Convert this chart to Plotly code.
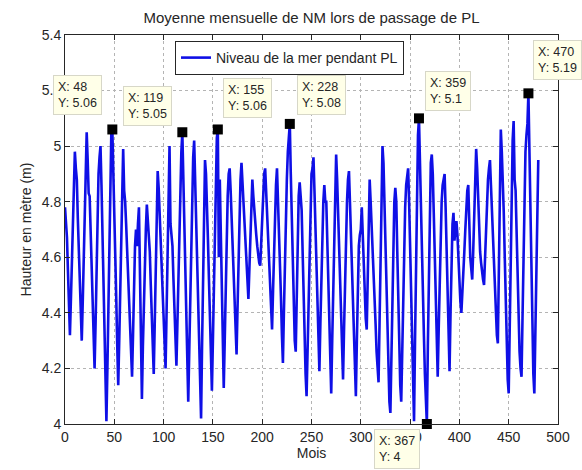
import plotly.graph_objects as go

# ---- data ----
mois = list(range(0, 481))
niveau = [
    4.78, 4.72, 4.67, 4.55, 4.42, 4.32, 4.45, 4.60, 4.74, 4.88, 4.98, 4.92,
    4.88, 4.74, 4.62, 4.50, 4.38, 4.30, 4.44, 4.60, 4.78, 4.93, 5.05, 4.95,
    4.83, 4.82, 4.70, 4.55, 4.42, 4.28, 4.20, 4.36, 4.55, 4.74, 4.90, 4.96,
    5.00, 4.86, 4.70, 4.52, 4.34, 4.16, 4.01, 4.20, 4.42, 4.65, 4.88, 5.05,
    5.06, 4.93, 4.80, 4.62, 4.45, 4.28, 4.14, 4.30, 4.50, 4.70, 4.88, 4.99,
    4.84, 4.80, 4.72, 4.62, 4.52, 4.42, 4.32, 4.22, 4.17, 4.32, 4.50, 4.64,
    4.70, 4.64, 4.72, 4.78, 4.55, 4.30, 4.09, 4.28, 4.46, 4.60, 4.70, 4.79,
    4.72, 4.70, 4.62, 4.50, 4.38, 4.26, 4.18, 4.36, 4.56, 4.76, 4.91, 4.85,
    4.76, 4.66, 4.56, 4.45, 4.35, 4.26, 4.20, 4.40, 4.62, 4.84, 5.00, 4.72,
    4.68, 4.64, 4.52, 4.40, 4.30, 4.21, 4.36, 4.52, 4.70, 4.86, 4.98, 5.05,
    4.90, 4.74, 4.56, 4.38, 4.20, 4.08, 4.26, 4.46, 4.66, 4.84, 4.96, 5.02,
    4.88, 4.74, 4.58, 4.42, 4.26, 4.12, 4.02, 4.28, 4.56, 4.82, 4.95, 4.90,
    4.80, 4.66, 4.52, 4.38, 4.24, 4.12, 4.30, 4.52, 4.74, 4.94, 5.03, 5.06,
    4.60, 4.88, 4.70, 4.48, 4.28, 4.13, 4.30, 4.50, 4.68, 4.82, 4.90, 4.92,
    4.84, 4.74, 4.62, 4.50, 4.38, 4.30, 4.25, 4.42, 4.60, 4.76, 4.88, 4.94,
    4.86, 4.80, 4.74, 4.68, 4.60, 4.52, 4.45, 4.56, 4.70, 4.82, 4.88, 4.82,
    4.76, 4.72, 4.68, 4.64, 4.60, 4.58, 4.57, 4.66, 4.76, 4.85, 4.90, 4.92,
    4.84, 4.74, 4.66, 4.58, 4.50, 4.42, 4.34, 4.48, 4.62, 4.76, 4.86, 4.92,
    4.82, 4.72, 4.60, 4.46, 4.32, 4.22, 4.40, 4.58, 4.74, 4.88, 4.98, 5.04,
    5.08, 4.90, 4.74, 4.58, 4.42, 4.30, 4.26, 4.46, 4.66, 4.82, 4.87, 4.80,
    4.77, 4.62, 4.46, 4.30, 4.18, 4.10, 4.28, 4.46, 4.64, 4.80, 4.90, 4.92,
    4.96, 4.84, 4.72, 4.58, 4.42, 4.28, 4.19, 4.36, 4.54, 4.70, 4.80, 4.86,
    4.80, 4.80, 4.66, 4.50, 4.34, 4.20, 4.11, 4.30, 4.50, 4.70, 4.88, 4.97,
    4.88, 4.76, 4.64, 4.50, 4.36, 4.24, 4.16, 4.34, 4.52, 4.68, 4.80, 4.88,
    4.91, 4.80, 4.68, 4.54, 4.40, 4.26, 4.16, 4.10, 4.30, 4.50, 4.64, 4.68,
    4.70, 4.78, 4.66, 4.56, 4.46, 4.38, 4.34, 4.56, 4.76, 4.88, 4.80, 4.72,
    4.64, 4.56, 4.46, 4.36, 4.26, 4.18, 4.15, 4.36, 4.60, 4.84, 5.00, 4.94,
    4.78, 4.62, 4.46, 4.32, 4.18, 4.08, 4.04, 4.26, 4.48, 4.70, 4.80, 4.85,
    4.80, 4.62, 4.44, 4.28, 4.14, 4.08, 4.26, 4.46, 4.64, 4.78, 4.86, 4.90,
    4.92, 4.80, 4.62, 4.44, 4.26, 4.10, 4.01, 4.30, 4.60, 4.88, 5.04, 5.10,
    4.92, 4.80, 4.62, 4.46, 4.32, 4.18, 4.06, 4.00, 4.28, 4.56, 4.80, 4.94,
    4.97, 4.90, 4.76, 4.60, 4.44, 4.28, 4.17, 4.34, 4.52, 4.68, 4.80, 4.86,
    4.88, 4.90, 4.78, 4.60, 4.42, 4.26, 4.19, 4.40, 4.62, 4.72, 4.76, 4.66,
    4.70, 4.73, 4.68, 4.58, 4.50, 4.44, 4.40, 4.46, 4.54, 4.62, 4.70, 4.78,
    4.84, 4.86, 4.72, 4.60, 4.56, 4.52, 4.62, 4.78, 4.92, 4.99, 4.92, 4.82,
    4.70, 4.62, 4.58, 4.54, 4.52, 4.50, 4.60, 4.72, 4.82, 4.88, 4.92, 4.95,
    4.86, 4.76, 4.66, 4.56, 4.46, 4.38, 4.32, 4.29, 4.60, 4.90, 5.06, 4.98,
    4.90, 4.76, 4.60, 4.44, 4.28, 4.16, 4.11, 4.34, 4.60, 4.84, 5.02, 5.09,
    4.88, 4.84, 4.68, 4.52, 4.38, 4.26, 4.20, 4.17, 4.38, 4.60, 4.80, 4.98,
    5.04, 5.08, 5.19, 4.98, 4.76, 4.54, 4.34, 4.18, 4.11, 4.34, 4.58, 4.80,
    4.95,
]

# data tips shown on the figure (month indices)
tip_mois = [48, 119, 155, 228, 359, 470, 367]
# offsets of each tip box from its point (pixels): (xshift, yshift, xanchor, yanchor)
tip_style = [
    (-59, 14, "left", "bottom"),
    (-59, 6, "left", "bottom"),
    (5, 11, "left", "bottom"),
    (7, 9, "left", "bottom"),
    (6, 7, "left", "bottom"),
    (5, 13, "left", "bottom"),
    (-53, -5, "left", "top"),
]

x_ticks = [0, 50, 100, 150, 200, 250, 300, 350, 400, 450, 500]
y_ticks = [4.0, 4.2, 4.4, 4.6, 4.8, 5.0, 5.2, 5.4]
y_labels = ["4", "4.2", "4.4", "4.6", "4.8", "5", "5.2", "5.4"]

FONT = "Liberation Sans, Arial, sans-serif"
TXT = "#262626"

fig = go.Figure()
fig.add_trace(go.Scatter(
    x=mois, y=niveau, mode="lines",
    line=dict(color="rgb(15,15,230)", width=2.6),
    name="Niveau de la mer pendant PL",
))

tip_y = [niveau[mois.index(m)] for m in tip_mois]
fig.add_trace(go.Scatter(
    x=tip_mois, y=tip_y, mode="markers",
    marker=dict(symbol="square", size=10, color="black"),
    showlegend=False, cliponaxis=False,
))

for m, v, (dx, dy, xa, ya) in zip(tip_mois, tip_y, tip_style):
    fig.add_annotation(
        x=m, y=v, xref="x", yref="y",
        text=f"X: {m}<br>Y: {round(v, 2):g}",
        showarrow=False, xanchor=xa, yanchor=ya,
        xshift=dx, yshift=dy, align="left",
        font=dict(family=FONT, size=12.5, color=TXT),
        bgcolor="rgb(255,255,232)", bordercolor="rgb(215,215,200)",
        borderwidth=1, borderpad=4,
    )

axis_common = dict(
    showline=True, linecolor="#262626", linewidth=1, mirror="ticks",
    ticks="inside", ticklen=5, tickcolor="#262626",
    showgrid=True, gridcolor="#b4b4b4", griddash="dot", gridwidth=1,
    zeroline=False, tickfont=dict(family=FONT, size=14, color=TXT),
)

fig.update_layout(
    width=582, height=470,
    margin=dict(l=65, r=24, t=35, b=46),
    paper_bgcolor="white", plot_bgcolor="white",
    title=dict(text="Moyenne mensuelle de NM lors de passage de PL",
               x=(65 + 558) / 2 / 582, xanchor="center", y=1 - 18 / 470, yanchor="middle",
               font=dict(family=FONT, size=15, color=TXT)),
    xaxis=dict(range=[0, 500], tickvals=x_ticks,
               title=dict(text="Mois", font=dict(family=FONT, size=14, color=TXT), standoff=4),
               **axis_common),
    yaxis=dict(range=[4, 5.4], tickvals=y_ticks, ticktext=y_labels,
               title=dict(text="Hauteur en mètre (m)", font=dict(family=FONT, size=14, color=TXT), standoff=6),
               **axis_common),
    legend=dict(x=(175 - 65) / 493, y=(424 - 41) / 389, xanchor="left", yanchor="top",
                bgcolor="white", bordercolor="#262626", borderwidth=1,
                font=dict(family=FONT, size=14, color=TXT)),
    showlegend=True,
)

fig.write_html("out.html")
